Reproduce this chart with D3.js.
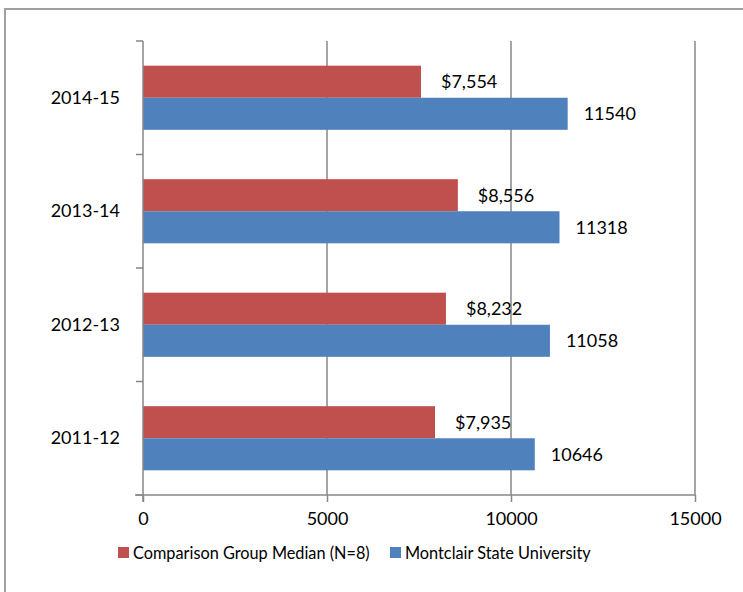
<!DOCTYPE html>
<html><head><meta charset="utf-8">
<script src="https://cdn.jsdelivr.net/npm/d3@7"></script>
<style>body{margin:0;background:#fff}svg{display:block}text{font-family:Lato,"Open Sans",sans-serif;fill:#000}</style>
</head><body>
<script>
const categories = ["2014-15", "2013-14", "2012-13", "2011-12"];
const seriesNames = ["Comparison Group Median (N=8)", "Montclair State University"];
const comparisonValues = [7554, 8556, 8232, 7935];
const montclairValues = [11540, 11318, 11058, 10646];
const xTicks = [0, 5000, 10000, 15000];
const colors = ["#C0504D", "#4F81BD"];

(function () {
const W = 743, H = 592;
const svg = d3.select("body").append("svg").attr("width", W).attr("height", H);

// outer frame
svg.append("rect").attr("x", 5).attr("y", 9).attr("width", 760).attr("height", 600)
  .attr("fill", "none").attr("stroke", "#A0A0A0").attr("stroke-width", 2);

const mLeft = 143, mRight = 695, mTop = 41, mBottom = 495;
const x = d3.scaleLinear().domain([0, 15000]).range([mLeft, mRight]);
const y = d3.scaleBand().domain(categories).range([mTop, mBottom]).padding(0);
const sub = d3.scaleBand().domain([0, 1]).range([0, y.bandwidth()]).paddingInner(0).paddingOuter(0.77);

const axisColor = "#878787";
// gridlines
svg.append("g").selectAll("line").data(xTicks.slice(1)).join("line")
  .attr("x1", d => x(d)).attr("x2", d => x(d)).attr("y1", mTop).attr("y2", mBottom)
  .attr("stroke", axisColor).attr("stroke-width", 1.5);

// bars
const data = [];
categories.forEach((c, i) => {
  data.push({c, s: 0, v: comparisonValues[i], label: "$" + d3.format(",")(comparisonValues[i])});
  data.push({c, s: 1, v: montclairValues[i], label: String(montclairValues[i])});
});
svg.append("g").selectAll("rect").data(data).join("rect")
  .attr("x", x(0)).attr("y", d => y(d.c) + sub(d.s))
  .attr("width", d => x(d.v) - x(0)).attr("height", sub.bandwidth())
  .attr("fill", d => colors[d.s]);

// value labels
svg.append("g").selectAll("text").data(data).join("text")
  .attr("x", d => x(d.v) + (d.s === 0 ? 20 : 16))
  .attr("y", d => y(d.c) + sub(d.s) + sub.bandwidth() / 2)
  .attr("dy", "0.35em").attr("font-size", 18)
  .text(d => d.label);

// x axis
const xAxis = d3.axisBottom(x).tickValues(xTicks).tickSize(7).tickPadding(10).tickFormat(d3.format("d"));
const gx = svg.append("g").attr("transform", `translate(0,${mBottom})`).call(xAxis);
gx.select(".domain").attr("stroke", axisColor).attr("stroke-width", 1.5).attr("d", `M${mLeft - 8},0H${mRight}`);
gx.selectAll(".tick line").attr("stroke", axisColor).attr("stroke-width", 1.5);
gx.selectAll(".tick text").attr("font-size", 18).attr("font-family", "Lato,sans-serif").attr("fill", "#000");

// y axis
const yAxis = d3.axisLeft(y).tickSize(0).tickPadding(23);
const gy = svg.append("g").attr("transform", `translate(${mLeft},0)`).call(yAxis);
gy.select(".domain").attr("stroke", axisColor).attr("stroke-width", 1.5).attr("d", `M0,${mTop}V${mBottom + 7}`);
gy.selectAll(".tick text").attr("font-size", 18).attr("font-family", "Lato,sans-serif").attr("fill", "#000");
// category boundary ticks
const bounds = categories.map(c => y(c)).concat([mBottom]);
svg.append("g").selectAll("line").data(bounds).join("line")
  .attr("x1", mLeft - 7).attr("x2", mLeft).attr("y1", d => d).attr("y2", d => d)
  .attr("stroke", axisColor).attr("stroke-width", 1.5);

// legend
const legendX = [118, 390];
const lg = svg.append("g").selectAll("g").data(seriesNames).join("g")
  .attr("transform", (d, i) => `translate(${legendX[i]},547)`);
lg.append("rect").attr("width", 11).attr("height", 11).attr("fill", (d, i) => colors[i]);
lg.append("text").attr("x", 15).attr("y", 6).attr("dy", "0.35em").attr("font-size", 16.3).text(d => d);
})();
</script>
</body></html>
